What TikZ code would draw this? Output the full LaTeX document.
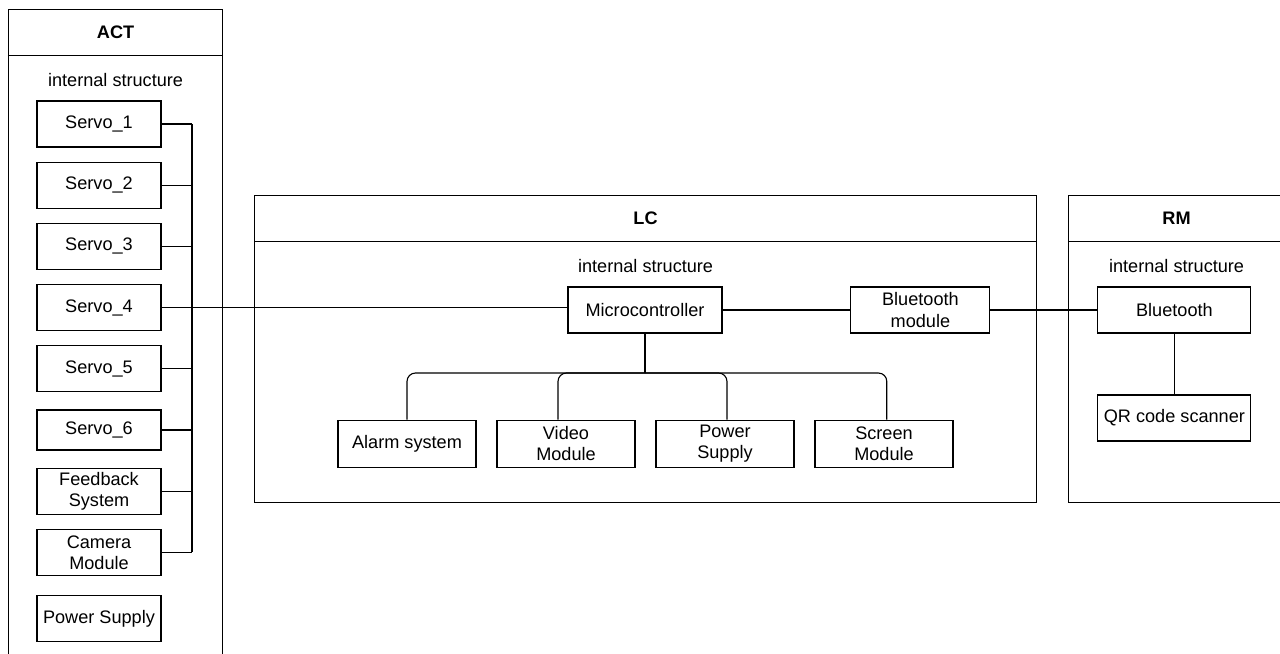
\documentclass[tikz,border=0pt]{standalone}
\usepackage{fontspec}
\setmainfont{Liberation Sans}
\usepackage{tikz}
\usetikzlibrary{positioning}

\begin{document}
\begin{tikzpicture}[line width=0.8pt,node distance=1.53cm,font=\fontsize{12.9}{15}\selectfont]
    \tikzstyle{block}=[draw,rectangle,minimum width=3.1cm,minimum height=1.15cm,align=center,inner sep=1pt]
    \tikzstyle{frame}=[draw,rectangle,anchor=north west,inner sep=0pt]
    \tikzstyle{head}=[font=\fontsize{12.9}{15}\selectfont\bfseries,minimum height=1.125cm,anchor=north,inner sep=0pt]
    \useasboundingbox (0,0) rectangle (32,-16.325);
    \clip (0,0) rectangle (32,-16.325);

    % ACT
    \node[frame,minimum width=5.35cm,minimum height=17cm] (act) at (0.2,-0.225) {};
    \node[head] (acth) at (act.north) {ACT};
    \draw (acth.south -| act.west) -- (acth.south -| act.east);
    \node (acti) at ([yshift=-0.625cm]acth.south) {internal structure};
    \node[block]                    (s1)    at (2.475,-3.1)         {Servo\_1};
    \node[block]                    (s2)    [below of=s1]           {Servo\_2};
    \node[block]                    (s3)    [below of=s2]           {Servo\_3};
    \node[block]                    (s4)    [below of=s3]           {Servo\_4};
    \node[block]                    (s5)    [below of=s4]           {Servo\_5};
    \node[block,minimum height=1cm] (s6)    [below of=s5]           {Servo\_6};
    \node[block]                    (fb)    [below of=s6]           {Feedback\\System};
    \node[block]                    (cam)   [below of=fb]           {Camera\\Module};
    \node[block]                    (ps)    [below of=cam,node distance=1.65cm] {Power Supply};

    \coordinate (actbus) at (4.8,0);
    \foreach \n in {s1,s2,s3,s5,s6,fb,cam}
        \draw (\n.east) -- (\n.east -| actbus);
    \draw (s1.east -| actbus) -- (cam.east -| actbus);

    % LC
    \node[frame,minimum width=19.55cm,minimum height=7.675cm] (lc) at (6.35,-4.875) {};
    \node[head] (lch) at (lc.north) {LC};
    \draw (lch.south -| lc.west) -- (lch.south -| lc.east);
    \node (lci) at ([yshift=-0.625cm]lch.south) {internal structure};
    \node[block,minimum width=3.85cm]   (mc)    at (16.125,-7.75)   {Microcontroller};
    \node[block,minimum width=3.475cm]  (bm)    at (23.01,-7.75)    {Bluetooth\\module};
    \tikzstyle{part}=[block,minimum width=3.45cm,minimum height=1.175cm,node distance=3.975cm]
    \node[part]     (alarm)     at (10.175,-11.09)      {Alarm system};
    \node[part]     (video)     [right of=alarm]        {Video\\Module};
    \node[part]     (power)     [right of=video]        {Power\\Supply};
    \node[part]     (screen)    [right of=power]        {Screen\\Module};

    \coordinate (lcbus) at (16.125,-9.325);
    \draw (mc) -- (lcbus);
    \draw[rounded corners=6pt] (lcbus) -| (alarm.north);
    \draw[rounded corners=6pt] (lcbus) -| ([xshift=-0.2cm]video.north);
    \draw[rounded corners=6pt] (lcbus) -| ([xshift=0.05cm]power.north);
    \draw[rounded corners=6pt] (lcbus) -| ([xshift=0.07cm]screen.north);
    \draw (s4.east) -- (s4.east -| mc.west);
    \draw (mc) -- (bm);

    % RM
    \node[frame,minimum width=5.4cm,minimum height=7.675cm] (rm) at (26.7,-4.875) {};
    \node[head] (rmh) at (rm.north) {RM};
    \draw (rmh.south -| rm.west) -- (rmh.south -| rm.east);
    \node (rmi) at ([yshift=-0.625cm]rmh.south) {internal structure};
    \node[block,minimum width=3.825cm]  (bt)    at (29.36,-7.75)    {Bluetooth};
    \node[block,minimum width=3.825cm]  (qr)    [below of=bt,node distance=2.7cm] {QR code scanner};

    \draw (bm) -- (bt);
    \draw (bt) -- (qr);
\end{tikzpicture}
\end{document}
